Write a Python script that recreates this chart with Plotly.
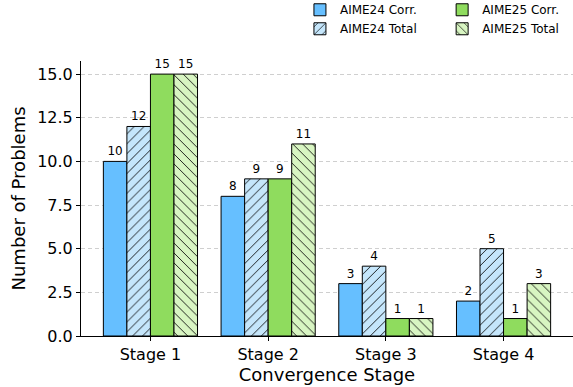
import plotly.graph_objects as go

stages = ["Stage 1", "Stage 2", "Stage 3", "Stage 4"]
aime24_corr = [10, 8, 3, 2]
aime24_total = [12, 9, 4, 5]
aime25_corr = [15, 9, 1, 1]
aime25_total = [15, 11, 1, 3]

FONT = "DejaVu Sans"

# name, values, fill colour, hatch, legend column
series = [
    ("AIME24 Corr.", aime24_corr, "#66bfff", "", "legend"),
    ("AIME24 Total", aime24_total, "#c5e6fb", "/", "legend"),
    ("AIME25 Corr.", aime25_corr, "#8fdc5e", "", "legend2"),
    ("AIME25 Total", aime25_total, "#d8f5c2", "\\", "legend2"),
]

fig = go.Figure()
for name, vals, color, hatch, leg in series:
    fig.add_trace(go.Bar(
        x=stages, y=vals, name=name, legend=leg,
        marker=dict(
            color=color,
            line=dict(color="black", width=1),
            pattern=dict(shape=hatch, fgcolor="black", bgcolor=color,
                         size=7, solidity=0.12, fillmode="replace"),
        ),
        text=[str(v) for v in vals], textposition="outside",
        textfont=dict(family=FONT, size=12, color="black"),
        cliponaxis=False,
    ))

legend_style = dict(
    orientation="v", xanchor="left", y=1.239, yanchor="top",
    font=dict(family=FONT, size=12), tracegroupgap=0, itemwidth=30,
    bgcolor="rgba(0,0,0,0)",
)

fig.update_layout(
    width=573, height=387,
    margin=dict(l=81, r=0, t=61, b=51, autoexpand=False),
    barmode="group", bargap=0.2, bargroupgap=0,
    plot_bgcolor="white", paper_bgcolor="white",
    font=dict(family=FONT, color="black"),
    legend=dict(x=0.445, **legend_style),
    legend2=dict(x=0.734, **legend_style),
    xaxis=dict(
        range=[-0.59, 3.59], showline=True, linecolor="black", linewidth=1,
        ticks="outside", ticklen=4, tickcolor="black",
        tickfont=dict(size=16), showgrid=False,
        title=dict(text="Convergence Stage", font=dict(size=18), standoff=2),
    ),
    yaxis=dict(
        range=[0, 15.75], tickvals=[0, 2.5, 5, 7.5, 10, 12.5, 15],
        ticktext=["0.0", "2.5", "5.0", "7.5", "10.0", "12.5", "15.0"],
        showline=True, linecolor="black", linewidth=1,
        ticks="outside", ticklen=4, tickcolor="black",
        tickfont=dict(size=16), showgrid=True, gridcolor="#cfcfcf",
        griddash="4px,3px", gridwidth=0.8, zeroline=False,
        title=dict(text="Number of Problems", font=dict(size=18), standoff=6),
    ),
)

fig.write_html("out.html")
